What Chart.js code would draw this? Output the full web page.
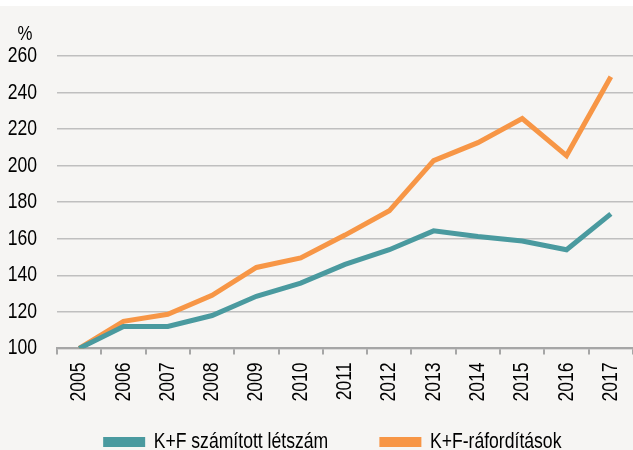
<!DOCTYPE html>
<html><head><meta charset="utf-8">
<script src="https://cdn.jsdelivr.net/npm/chart.js@4/dist/chart.umd.min.js"></script>
<style>
html,body{margin:0;padding:0;background:#fff;}
#wrap{position:absolute;left:0;top:6px;width:633px;height:444px;background:#f6f5f3;}
</style></head>
<body>
<div id="wrap"><canvas id="c" width="633" height="444"></canvas></div>
<script>
const years = ['2005','2006','2007','2008','2009','2010','2011','2012','2013','2014','2015','2016','2017'];
const letszam = [100,112,112,118,128.5,135.7,146,154,164.3,161.2,158.8,154,173.6];
const raforditas = [100,114.8,118.7,129,144.3,149.5,162,175.3,202.7,212.6,225.8,205.5,248.6];
const seriesNames = ['K+F számított létszám','K+F-ráfordítások'];
const yTicks = {min:100,max:260,step:20};
const FONT = "'Liberation Sans',Arial,sans-serif";

// narrow the drawn text (reference uses a condensed sans face)
const NARROW = 0.8;
const _fill = CanvasRenderingContext2D.prototype.fillText;
CanvasRenderingContext2D.prototype.fillText = function(t,x,y,mw){
  const w = this.measureText(t).width*NARROW;
  const m = (mw===undefined||mw===null)?w:Math.min(mw,w);
  return _fill.call(this,t,x,y,m);
};

const pctPlugin = {id:'pct',
  afterUpdate(ch){ if(ch.legend){ ch.legend.left+=5; ch.legend.right+=5; } },
  afterDraw(ch){const c=ch.ctx;c.save();c.font='21px '+FONT;c.fillStyle='#000';c.textAlign='center';c.textBaseline='alphabetic';c.fillText('%',25,34);c.restore();}};

new Chart(document.getElementById('c'),{
  type:'line',
  data:{labels:years,datasets:[
    {label:seriesNames[0],data:letszam,borderColor:'#4a9a9f',backgroundColor:'#4a9a9f',borderWidth:5,pointRadius:0,tension:0},
    {label:seriesNames[1],data:raforditas,borderColor:'#f79646',backgroundColor:'#f79646',borderWidth:5,pointRadius:0,tension:0}
  ]},
  options:{
    responsive:false,animation:false,
    layout:{padding:{left:0,right:0,top:50,bottom:-13}},
    plugins:{
      legend:{position:'bottom',fullSize:false,labels:{boxWidth:37,boxHeight:5,padding:10,color:'#000',font:{family:FONT,size:22}}},
      tooltip:{enabled:false}
    },
    scales:{
      x:{offset:true,
        grid:{offset:true,drawOnChartArea:false,drawTicks:true,tickLength:6,color:'#a6a6a6',lineWidth:2},
        border:{display:true,color:'#a6a6a6',width:2},
        ticks:{color:'#000',font:{family:FONT,size:22},maxRotation:90,minRotation:90,padding:8,autoSkip:false},
        afterFit(s){s.height=72.6;s.paddingLeft=0;s.paddingRight=0;}
      },
      y:{min:yTicks.min,max:yTicks.max,
        grid:{color:'#bfbfbf',lineWidth:1.5,drawTicks:false},
        border:{display:false},
        ticks:{stepSize:yTicks.step,color:'#000',font:{family:FONT,size:22},padding:20},
        afterFit(s){s.width=57;s.paddingTop=0;s.paddingBottom=0;}
      }
    }
  },
  plugins:[pctPlugin]
});
</script>
</body></html>
